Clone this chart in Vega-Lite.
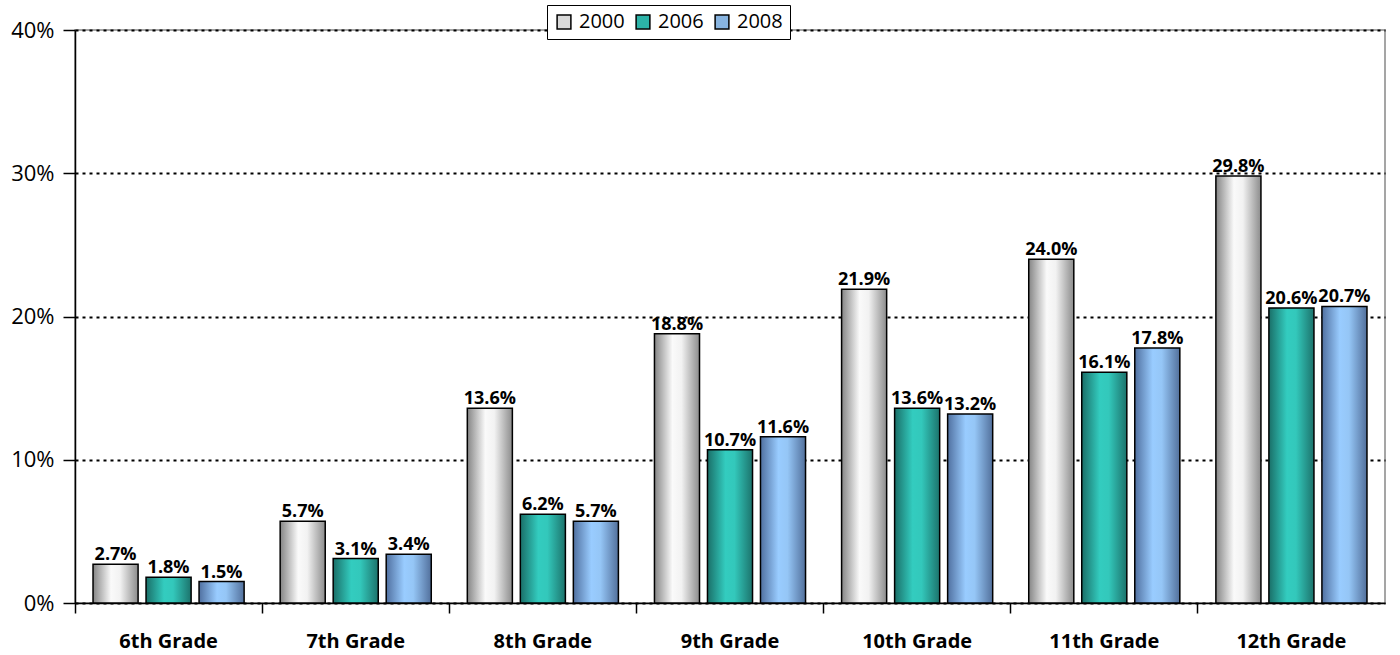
{
  "$schema": "https://vega.github.io/schema/vega-lite/v6.json",
  "autosize": {"type": "none"},
  "padding": {"left": 75, "top": 30, "right": 15, "bottom": 52},
  "width": 1310,
  "height": 573,
  "background": "white",
  "config": {
    "font": "Open Sans",
    "view": {"stroke": "#888888", "strokeWidth": 1.5}
  },
  "data": {
    "values": [
      {"grade": "6th Grade", "year": "2000", "value": 0.027},
      {"grade": "6th Grade", "year": "2006", "value": 0.018},
      {"grade": "6th Grade", "year": "2008", "value": 0.015},
      {"grade": "7th Grade", "year": "2000", "value": 0.057},
      {"grade": "7th Grade", "year": "2006", "value": 0.031},
      {"grade": "7th Grade", "year": "2008", "value": 0.034},
      {"grade": "8th Grade", "year": "2000", "value": 0.136},
      {"grade": "8th Grade", "year": "2006", "value": 0.062},
      {"grade": "8th Grade", "year": "2008", "value": 0.057},
      {"grade": "9th Grade", "year": "2000", "value": 0.188},
      {"grade": "9th Grade", "year": "2006", "value": 0.107},
      {"grade": "9th Grade", "year": "2008", "value": 0.116},
      {"grade": "10th Grade", "year": "2000", "value": 0.219},
      {"grade": "10th Grade", "year": "2006", "value": 0.136},
      {"grade": "10th Grade", "year": "2008", "value": 0.132},
      {"grade": "11th Grade", "year": "2000", "value": 0.240},
      {"grade": "11th Grade", "year": "2006", "value": 0.161},
      {"grade": "11th Grade", "year": "2008", "value": 0.178},
      {"grade": "12th Grade", "year": "2000", "value": 0.298},
      {"grade": "12th Grade", "year": "2006", "value": 0.206},
      {"grade": "12th Grade", "year": "2008", "value": 0.207}
    ]
  },
  "encoding": {
    "x": {
      "field": "grade", "type": "nominal", "sort": null,
      "scale": {"paddingInner": 0, "paddingOuter": 0},
      "axis": {
        "title": null, "labelAngle": 0, "labelFontSize": 20, "labelFontWeight": "bold",
        "labelColor": "black", "labelPadding": 18, "tickSize": 10, "tickColor": "black",
        "tickWidth": 1.5, "domainColor": "black", "domainWidth": 1.5, "bandPosition": 0,
        "grid": false
      }
    },
    "xOffset": {
      "field": "year", "type": "nominal",
      "scale": {"domain": ["2000", "2006", "2008"], "paddingInner": 0.15, "paddingOuter": 0.34}
    },
    "y": {
      "field": "value", "type": "quantitative",
      "scale": {"domain": [0, 0.4]},
      "axis": {
        "title": null, "format": ".0%", "values": [0, 0.1, 0.2, 0.3, 0.4],
        "labelFontSize": 22, "labelColor": "black", "labelPadding": 9, "tickSize": 12,
        "tickColor": "black", "tickWidth": 1.5, "domainColor": "black", "domainWidth": 1.5,
        "grid": true, "gridColor": "black", "gridDash": [3, 4], "gridWidth": 2
      }
    }
  },
  "layer": [
    {
      "transform": [{"filter": "datum.year == '2000'"}],
      "mark": {"type": "bar", "stroke": "black", "strokeWidth": 1.5,
        "fill": {"gradient": "linear", "x1": 0, "y1": 0, "x2": 1, "y2": 0,
          "stops": [{"offset": 0, "color": "#858585"}, {"offset": 0.4, "color": "#fafafa"}, {"offset": 0.6, "color": "#f2f2f2"}, {"offset": 1, "color": "#8c8c8c"}]}}
    },
    {
      "transform": [{"filter": "datum.year == '2006'"}],
      "mark": {"type": "bar", "stroke": "black", "strokeWidth": 1.5,
        "fill": {"gradient": "linear", "x1": 0, "y1": 0, "x2": 1, "y2": 0,
          "stops": [{"offset": 0, "color": "#1a6f68"}, {"offset": 0.4, "color": "#33ccbf"}, {"offset": 0.6, "color": "#33c8bb"}, {"offset": 1, "color": "#1c736c"}]}}
    },
    {
      "transform": [{"filter": "datum.year == '2008'"}],
      "mark": {"type": "bar", "stroke": "black", "strokeWidth": 1.5,
        "fill": {"gradient": "linear", "x1": 0, "y1": 0, "x2": 1, "y2": 0,
          "stops": [{"offset": 0, "color": "#5070a0"}, {"offset": 0.4, "color": "#99ccff"}, {"offset": 0.6, "color": "#95c6f6"}, {"offset": 1, "color": "#52709c"}]}}
    },
    {
      "mark": {"type": "square", "opacity": 0, "size": 10},
      "encoding": {
        "fill": {
          "field": "year", "type": "nominal",
          "scale": {"domain": ["2000", "2006", "2008"], "range": ["#d9d9d9", "#2cb3a8", "#88b4e0"]},
          "legend": {
            "title": null, "orient": "none", "direction": "horizontal",
            "legendX": 472, "legendY": -25,
            "strokeColor": "black", "fillColor": "white", "padding": 7,
            "symbolType": "square", "symbolSize": 190, "symbolStrokeColor": "black",
            "symbolStrokeWidth": 1.5, "symbolOpacity": 1,
            "labelFontSize": 20, "labelColor": "black",
            "columnPadding": 8, "labelOffset": 5
          }
        }
      }
    },
    {
      "mark": {"type": "text", "baseline": "bottom", "dy": 0, "fontSize": 18, "fontWeight": "bold", "color": "black"},
      "encoding": {
        "text": {"field": "value", "type": "quantitative", "format": ".1%"}
      }
    }
  ]
}
